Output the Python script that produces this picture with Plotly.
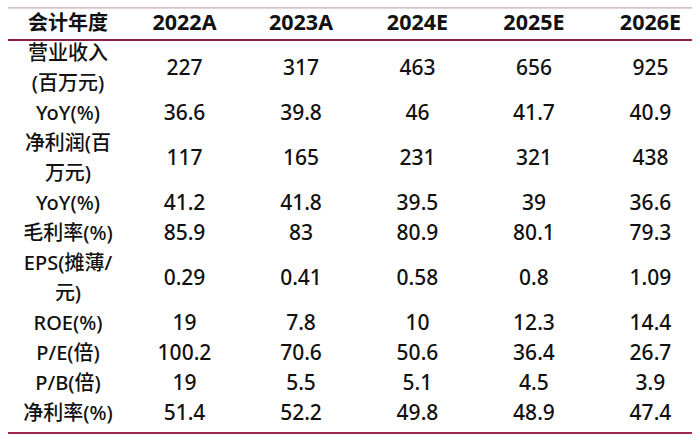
import plotly.graph_objects as go

header = ["会计年度", "2022A", "2023A", "2024E", "2025E", "2026E"]
row_labels = [
    ["营业收入", "(百万元)"],
    ["YoY(%)"],
    ["净利润(百", "万元)"],
    ["YoY(%)"],
    ["毛利率(%)"],
    ["EPS(摊薄/", "元)"],
    ["ROE(%)"],
    ["P/E(倍)"],
    ["P/B(倍)"],
    ["净利率(%)"],
]
v2022 = ["227", "36.6", "117", "41.2", "85.9", "0.29", "19", "100.2", "19", "51.4"]
v2023 = ["317", "39.8", "165", "41.8", "83", "0.41", "7.8", "70.6", "5.5", "52.2"]
v2024 = ["463", "46", "231", "39.5", "80.9", "0.58", "10", "50.6", "5.1", "49.8"]
v2025 = ["656", "41.7", "321", "39", "80.1", "0.8", "12.3", "36.4", "4.5", "48.9"]
v2026 = ["925", "40.9", "438", "36.6", "79.3", "1.09", "14.4", "26.7", "3.9", "47.4"]
year_values = [v2022, v2023, v2024, v2025, v2026]

FONT = "Noto Sans, Noto Sans CJK SC"
FS = 20
TXT = "#111111"

# line slots: header at slot 0, body lines start at 1
lab_x, lab_y, lab_t = [], [], []
val_mid = []
slot = 1
for lines in row_labels:
    n = len(lines)
    for k, ln in enumerate(lines):
        lab_x.append(header[0])
        lab_y.append(slot + k)
        lab_t.append(ln)
    val_mid.append(slot + (n - 1) / 2)
    slot += n
n_slots = slot - 1

fig = go.Figure()
# header
fig.add_trace(go.Scatter(
    x=header, y=[0] * len(header), mode="text", text=[f"<b>{h}</b>" for h in header],
    textfont=dict(family=FONT, size=[FS] + [FS + 1.5] * (len(header) - 1), color=TXT),
    hoverinfo="skip", showlegend=False))
# row labels
fig.add_trace(go.Scatter(
    x=lab_x, y=lab_y, mode="text", text=lab_t,
    textfont=dict(family=FONT, size=FS, color=TXT, weight=500), hoverinfo="skip", showlegend=False))
# values
for yr, vals in zip(header[1:], year_values):
    fig.add_trace(go.Scatter(
        x=[yr] * len(vals), y=val_mid, mode="text", text=vals,
        textfont=dict(family=FONT, size=FS + 1, color=TXT, weight=500), hoverinfo="skip", showlegend=False))

x0p, x1p = 8 / 700, 692 / 700
fig.add_shape(type="line", xref="paper", yref="y", x0=x0p, x1=x1p, y0=-0.57, y1=-0.57,
              line=dict(color="#c9a9b6", width=1.2))
fig.add_shape(type="line", xref="paper", yref="y", x0=x0p, x1=x1p, y0=0.5, y1=0.5,
              line=dict(color="#8e1f42", width=2))
fig.add_shape(type="line", xref="paper", yref="y", x0=x0p, x1=x1p, y0=n_slots + 0.6, y1=n_slots + 0.6,
              line=dict(color="#a0284f", width=2))

fig.update_layout(
    width=700, height=442, margin=dict(l=0, r=0, t=0, b=0),
    paper_bgcolor="white", plot_bgcolor="white",
    xaxis=dict(type="category", categoryorder="array", categoryarray=header,
               range=[-0.5837, 5.425], visible=False, fixedrange=True),
    yaxis=dict(range=[13.9, -0.8333], visible=False, fixedrange=True),
)
fig.write_html("out.html", config={"displayModeBar": False},
               post_script="document.body.style.margin='0px';")
